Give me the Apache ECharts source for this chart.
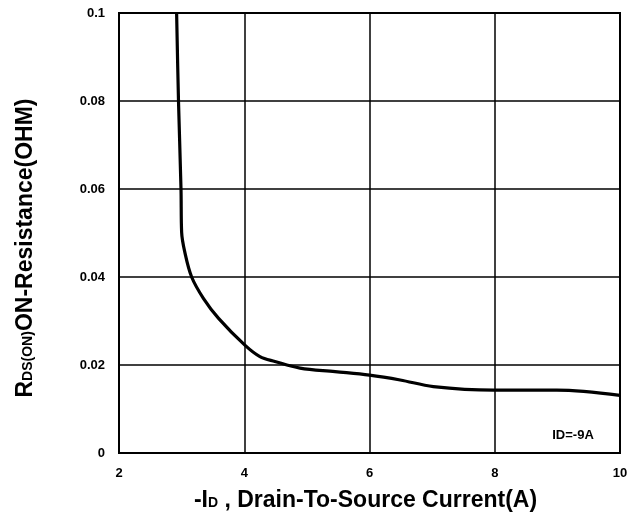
<!DOCTYPE html>
<html><head><meta charset="utf-8">
<script src="https://cdn.jsdelivr.net/npm/echarts@6/dist/echarts.min.js"></script>
<style>html,body{margin:0;padding:0;background:#fff}#c{width:638px;height:517px}</style>
</head><body><div id="c"></div>
<script>
const currentA = [2.92, 2.95, 2.99, 3.0, 3.05, 3.16, 3.35, 3.59, 4.01, 4.25, 4.49, 4.89, 5.45, 6.0, 6.49, 7.02, 7.98, 8.99, 10.0];
const resistance = [0.1, 0.08, 0.06, 0.0502, 0.0457, 0.040, 0.0351, 0.0306, 0.0245, 0.0219, 0.0208, 0.0193, 0.0185, 0.0177, 0.0166, 0.0151, 0.0143, 0.0143, 0.0131];
const xTicks = [2, 4, 6, 8, 10];
const yTicks = [0, 0.02, 0.04, 0.06, 0.08, 0.1];
const noteText = 'ID=-9A';

const chart = echarts.init(document.getElementById('c'));
const font = 'Arial, "Liberation Sans", sans-serif';
const titleRich = {
  a: {fontSize: 23, fontWeight: 'bold', fontFamily: font, color: '#000'},
  b: {fontSize: 14, fontWeight: 'bold', fontFamily: font, color: '#000', padding: [6,0,0,0]}
};
chart.setOption({
  animation: false,
  grid: {left: 119, right: 18, top: 13, bottom: 62, show: true, borderColor: '#000', borderWidth: 2, backgroundColor: 'transparent'},
  xAxis: {
    type: 'value', min: xTicks[0], max: xTicks[xTicks.length-1], interval: 2,
    axisLine: {show: false}, axisTick: {show: false},
    splitLine: {show: true, lineStyle: {color: '#000', width: 1.5}},
    axisLabel: {color: '#000', fontWeight: 'bold', fontSize: 13, fontFamily: font, margin: 14},
    name: '{a|-I}{b|D}{a| , Drain-To-Source Current(A)}',
    nameLocation: 'middle', nameGap: 36,
    nameTextStyle: {padding: [0,0,0,-8], rich: titleRich}
  },
  yAxis: {
    type: 'value', min: yTicks[0], max: yTicks[yTicks.length-1], interval: 0.02,
    axisLine: {show: false}, axisTick: {show: false},
    splitLine: {show: true, lineStyle: {color: '#000', width: 1.5}},
    axisLabel: {color: '#000', fontWeight: 'bold', fontSize: 13, fontFamily: font, margin: 14,
      formatter: v => String(Math.round(v*100)/100)},
    name: '{a|R}{b|DS(ON)}{a|ON-Resistance(OHM)}',
    nameLocation: 'middle', nameGap: 82, nameRotate: 90,
    nameTextStyle: {padding: [0,0,0,-30], rich: titleRich}
  },
  series: [{
    type: 'line', data: currentA.map((x,i) => [x, resistance[i]]),
    showSymbol: false, smooth: 0.35,
    lineStyle: {color: '#000', width: 3.2},
    markPoint: {symbol: 'circle', symbolSize: 1, itemStyle: {color: 'rgba(0,0,0,0)'},
      data: [{coord: [9.25, 0.0039], label: {show: true, position: 'inside', formatter: noteText, color: '#000', fontWeight: 'bold', fontSize: 13, fontFamily: font}}]}
  }]
});
</script></body></html>
